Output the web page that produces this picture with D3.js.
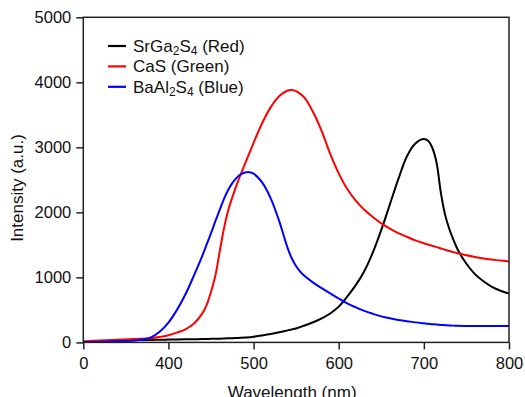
<!DOCTYPE html>
<html>
<head>
<meta charset="utf-8">
<script src="https://cdn.jsdelivr.net/npm/d3@7"></script>
<style>
  body { margin: 0; background: #fff; }
  text { font-family: "Liberation Sans", Arial, sans-serif; fill: #111; }
</style>
</head>
<body>
<div id="chart"></div>
<script>
// wavelengths (nm) shared by all three spectra
var wavelength = [300,320,340,360,370,380,390,400,410,420,430,440,445,450,455,460,465,470,475,480,485,490,495,500,510,520,530,540,545,550,555,560,570,580,590,600,610,620,630,640,650,660,670,680,690,700,705,710,715,720,725,730,735,740,750,760,770,780,790,800];

var srga = [10,18,26,33,36,38,41,43,45,47,49,52,53,55,56,58,60,62,64,67,70,74,79,88,105,128,155,185,200,215,237,260,310,370,445,550,705,880,1095,1380,1730,2120,2510,2860,3060,3128,3100,2990,2760,2300,1960,1740,1570,1420,1210,1050,940,855,795,750];

var cas = [15,30,42,52,58,65,85,110,150,200,290,450,580,780,1020,1380,1740,2020,2230,2420,2590,2750,2910,3070,3370,3615,3785,3875,3883,3865,3820,3760,3540,3250,2900,2600,2360,2180,2040,1930,1830,1750,1680,1625,1570,1525,1505,1485,1465,1445,1425,1405,1388,1370,1340,1315,1292,1275,1258,1245];

var baal = [5,10,18,28,45,82,168,305,500,740,1030,1340,1510,1680,1860,2030,2200,2340,2450,2530,2585,2612,2618,2595,2460,2220,1870,1450,1290,1170,1085,1020,920,835,755,675,600,540,485,440,400,370,345,327,308,293,286,280,274,269,265,261,258,256,253,251,251,252,253,254];

var seriesNames = ["SrGa2S4 (Red)", "CaS (Green)", "BaAl2S4 (Blue)"];
var seriesColors = ["#000000", "#ff0000", "#0000ff"];

var xTicks = [300,400,500,600,700,800];
var xTickLabels = ["0","400","500","600","700","800"];
var yTicks = [0,1000,2000,3000,4000,5000];

var W = 525, H = 397;
var pLeft = 83.3, pRight = 509, pTop = 17.3, pBottom = 342.4;

var svg = d3.select("#chart").append("svg")
  .attr("width", W)
  .attr("height", H);

var x = d3.scaleLinear().domain([300, 800]).range([pLeft, pRight]);
var y = d3.scaleLinear().domain([0, 5000]).range([pBottom, pTop]);

// curves
var allSeries = [srga, cas, baal];
var line = d3.line()
  .x(function(d){ return x(d[0]); })
  .y(function(d){ return y(d[1]); })
  .curve(d3.curveCatmullRom.alpha(0.5));

svg.append("g").selectAll("path")
  .data(allSeries)
  .enter()
  .append("path")
    .attr("d", function(s){ return line(wavelength.map(function(w, i){ return [w, s[i]]; })); })
    .attr("fill", "none")
    .attr("stroke", function(s, i){ return seriesColors[i]; })
    .attr("stroke-width", 2);

// frame
svg.append("rect")
  .attr("x", pLeft)
  .attr("y", pTop)
  .attr("width", pRight - pLeft)
  .attr("height", pBottom - pTop)
  .attr("fill", "none")
  .attr("stroke", "#222")
  .attr("stroke-width", 1.5);

// axes
var xAxis = svg.append("g")
  .attr("transform", "translate(0," + pBottom + ")")
  .call(d3.axisBottom(x)
    .tickValues(xTicks)
    .tickFormat(function(d, i){ return xTickLabels[i]; })
    .tickSize(7)
    .tickPadding(8));

var yAxis = svg.append("g")
  .attr("transform", "translate(" + pLeft + ",0)")
  .call(d3.axisLeft(y)
    .tickValues(yTicks)
    .tickFormat(d3.format("d"))
    .tickSize(7)
    .tickPadding(5));

[xAxis, yAxis].forEach(function(a){
  a.select(".domain").remove();
  a.selectAll("line").attr("stroke", "#222").attr("stroke-width", 1.5);
  a.selectAll("text")
    .attr("font-family", "Liberation Sans, Arial, sans-serif")
    .attr("font-size", 16.5)
    .attr("fill", "#111");
});

// axis titles
svg.append("text")
  .attr("x", (pLeft + pRight) / 2 - 4)
  .attr("y", 397.5)
  .attr("text-anchor", "middle")
  .attr("font-size", 17)
  .text("Wavelength (nm)");

svg.append("text")
  .attr("transform", "translate(23,188) rotate(-90)")
  .attr("text-anchor", "middle")
  .attr("font-size", 17)
  .text("Intensity (a.u.)");

// legend
var rows = svg.append("g").selectAll("g")
  .data(seriesNames)
  .enter()
  .append("g")
    .attr("transform", function(d, i){ return "translate(108," + (52 + i * 20.4) + ")"; });

rows.append("line")
  .attr("x1", 0)
  .attr("x2", 18)
  .attr("y1", -6)
  .attr("y2", -6)
  .attr("stroke", function(d, i){ return seriesColors[i]; })
  .attr("stroke-width", 2.2);

rows.append("text")
  .attr("x", 25)
  .attr("y", 0)
  .attr("font-size", 17)
  .each(function(d){
    var t = d3.select(this);
    var shift = 0;
    // digits in the formulas are subscripts
    d.split(/(\d)/).forEach(function(p){
      if (p === "") return;
      var sub = /^\d$/.test(p);
      var target = sub ? 3 : 0;
      t.append("tspan")
        .attr("font-size", sub ? 12 : 17)
        .attr("dy", target - shift)
        .text(p);
      shift = target;
    });
  });
</script>
</body>
</html>
